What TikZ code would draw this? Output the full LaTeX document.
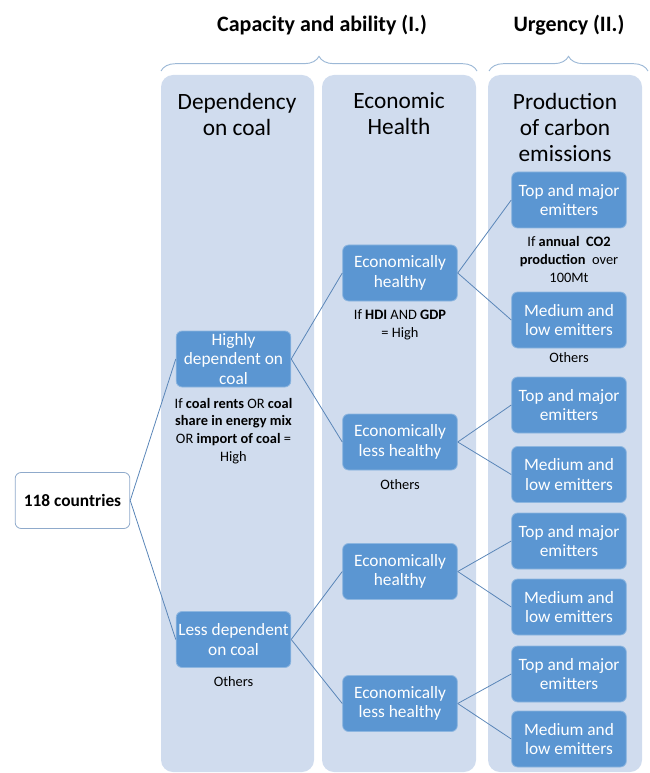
\documentclass[tikz,border=0pt]{standalone}
\usepackage{fontspec}
\setmainfont{Carlito}
\usetikzlibrary{decorations.pathreplacing}
\definecolor{panelfill}{HTML}{D0DCEE}
\definecolor{boxfill}{HTML}{5B96D2}
\definecolor{boxedge}{HTML}{8DB6E0}
\definecolor{linkcol}{HTML}{5A86B8}
\definecolor{bracecol}{HTML}{9CB8D6}
\definecolor{rootedge}{HTML}{8FAACB}
\tikzset{
  panel/.style={fill=panelfill, draw=none, rounded corners=9pt},
  stagebox/.style={rectangle, rounded corners=4.5pt, fill=boxfill, draw=boxedge, line width=0.6pt,
    minimum width=86pt, minimum height=42pt, align=center, text=white,
    font=\fontsize{13}{14.5}\selectfont, inner sep=0pt},
  rootbox/.style={rectangle, rounded corners=4.5pt, fill=white, draw=rootedge, line width=0.6pt,
    minimum width=86pt, minimum height=42pt, align=center, font=\fontsize{13}{15}\selectfont\bfseries},
  header/.style={align=center, font=\fontsize{17.5}{19.5}\selectfont, inner sep=0pt},
  title/.style={font=\fontsize{16.5}{19}\selectfont\bfseries, inner sep=0pt},
  rule/.style={align=center, font=\fontsize{10.8}{13.3}\selectfont, inner sep=0pt},
  link/.style={draw=linkcol, line width=0.6pt},
  bracket/.style={draw=bracecol, line width=0.7pt, decorate,
    decoration={brace, amplitude=11pt, aspect=0.5}},
}
\begin{document}
\begin{tikzpicture}[x=0.75pt, y=-0.75pt]
\useasboundingbox (0,0) rectangle (649,773);

% column panels
\fill[panel] (161,75) rectangle (314,772);
\fill[panel] (322,75) rectangle (476,772);
\fill[panel] (488,75) rectangle (642,772);

% group titles and braces
\node[title] (capacity) at (322,25) {Capacity and ability (I.)};
\node[title] (urgency) at (569,25) {Urgency (II.)};
\coordinate (b1l) at (161,71);
\coordinate (b1r) at (477,71);
\coordinate (b2l) at (489,71);
\coordinate (b2r) at (648,71);
\draw[bracket] (b1l) -- (b1r);
\draw[bracket] (b2l) -- (b2r);

% column headers
\node[header] (hdep) at (237,114) {Dependency\\on coal};
\node[header] (hecon) at (399,114) {Economic\\Health};
\node[header] (hprod) at (565,127) {Production\\of carbon\\emissions};

% root
\node[rootbox] (root) at (72.5,500.5) {118 countries};

% stage 1: dependency on coal
\node[stagebox] (hd) at (233.5,359) {Highly\\dependent on\\coal};
\node[stagebox] (ld) at (233.5,639.5) {Less dependent\\on coal};
\node[rule] (hdrule) at (233.5,431) {If \textbf{coal rents} OR \textbf{coal}\\\textbf{share in energy mix}\\OR \textbf{import of coal} =\\High};
\node[rule] (ldrule) at (233.5,682) {Others};

% stage 2: economic health
\node[stagebox] (eh1) at (400,273) {Economically\\healthy};
\node[stagebox] (el1) at (400,442) {Economically\\less healthy};
\node[stagebox] (eh2) at (400,571.5) {Economically\\healthy};
\node[stagebox] (el2) at (400,703.5) {Economically\\less healthy};
\node[rule] (ehrule) at (400,325) {If \textbf{HDI} AND \textbf{GDP}\\= High};
\node[rule] (elrule) at (400,485) {Others};

% stage 3: carbon emissions
\node[stagebox] (t1) at (569,200) {Top and major\\emitters};
\node[stagebox] (m1) at (569,320) {Medium and\\low emitters};
\node[stagebox] (t2) at (569,405) {Top and major\\emitters};
\node[stagebox] (m2) at (569,474.5) {Medium and\\low emitters};
\node[stagebox] (t3) at (569,541) {Top and major\\emitters};
\node[stagebox] (m3) at (569,607) {Medium and\\low emitters};
\node[stagebox] (t4) at (569,674) {Top and major\\emitters};
\node[stagebox] (m4) at (569,739) {Medium and\\low emitters};
\node[rule] (trule) at (569,259.5) {If \textbf{annual\ \ CO2}\\\textbf{production}\ \ over\\100Mt};
\node[rule] (mrule) at (569,358) {Others};

% connectors
\draw[link] (root.east) -- (hd.west);
\draw[link] (root.east) -- (ld.west);
\draw[link] (hd.east) -- (eh1.west);
\draw[link] (hd.east) -- (el1.west);
\draw[link] (ld.east) -- (eh2.west);
\draw[link] (ld.east) -- (el2.west);
\draw[link] (eh1.east) -- (t1.west);
\draw[link] (eh1.east) -- (m1.west);
\draw[link] (el1.east) -- (t2.west);
\draw[link] (el1.east) -- (m2.west);
\draw[link] (eh2.east) -- (t3.west);
\draw[link] (eh2.east) -- (m3.west);
\draw[link] (el2.east) -- (t4.west);
\draw[link] (el2.east) -- (m4.west);
\end{tikzpicture}
\end{document}
